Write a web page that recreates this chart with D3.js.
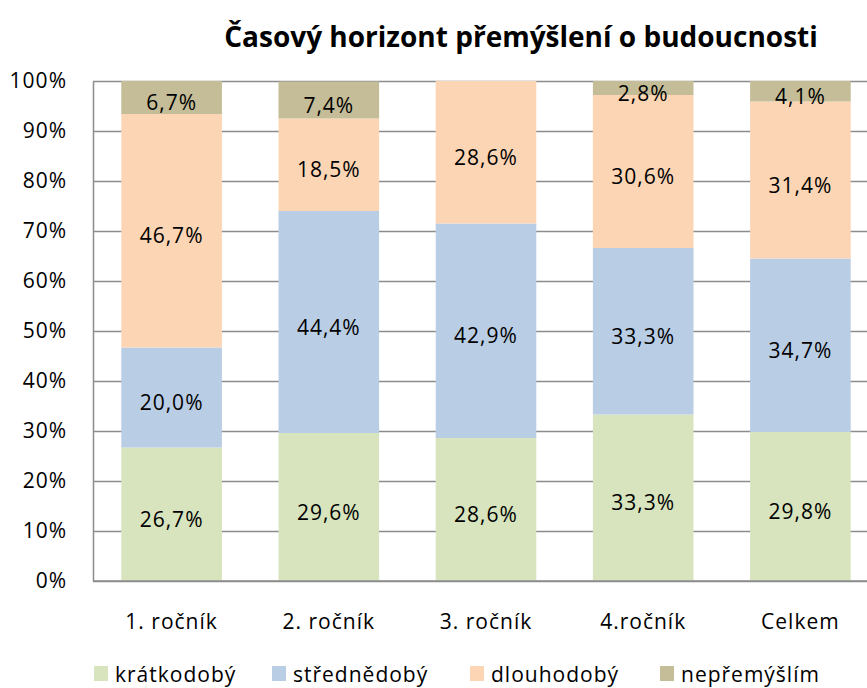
<!DOCTYPE html>
<html>
<head>
<meta charset="utf-8">
<script src="https://cdn.jsdelivr.net/npm/d3@7"></script>
<style>
  body { margin: 0; background: #fff; }
  svg { display: block; font-family: "Open Sans", sans-serif; }
</style>
</head>
<body>
<div id="chart"></div>
<script>
var svgWidth = 867;
var svgHeight = 688;

// data
var categories = ["1. ročník", "2. ročník", "3. ročník", "4.ročník", "Celkem"];
var seriesNames = ["krátkodobý", "střednědobý", "dlouhodobý", "nepřemýšlím"];
var kratkodoby = [26.7, 29.6, 28.6, 33.3, 29.8];
var strednedoby = [20.0, 44.4, 42.9, 33.3, 34.7];
var dlouhodoby = [46.7, 18.5, 28.6, 30.6, 31.4];
var nepremyslim = [6.7, 7.4, 0, 2.8, 4.1];
var yTicks = [0, 10, 20, 30, 40, 50, 60, 70, 80, 90, 100];

var colors = ["#d7e4bd", "#b9cde5", "#fcd5b5", "#c4bd97"];

var rows = categories.map(function (c, i) {
  return {
    cat: c,
    "krátkodobý": kratkodoby[i],
    "střednědobý": strednedoby[i],
    "dlouhodobý": dlouhodoby[i],
    "nepřemýšlím": nepremyslim[i]
  };
});

var margin = { top: 81, left: 93, bottom: 107 };
var plotRight = 879; // plot area runs past the window edge
var fontSize = 21;
var spacing = "1px";

var svg = d3.select("#chart")
  .append("svg")
  .attr("width", svgWidth)
  .attr("height", svgHeight);

var x = d3.scaleBand()
  .domain(categories)
  .range([margin.left, plotRight])
  .paddingInner(0.36)
  .paddingOuter(0.18);

var y = d3.scaleLinear()
  .domain([0, 100])
  .range([svgHeight - margin.bottom, margin.top])
  .clamp(true);

// gridlines
svg.append("g")
  .selectAll("line")
  .data(yTicks)
  .enter()
  .append("line")
    .attr("x1", margin.left)
    .attr("x2", plotRight)
    .attr("y1", function (d) { return Math.round(y(d)) + 0.5; })
    .attr("y2", function (d) { return Math.round(y(d)) + 0.5; })
    .attr("stroke", "#8c8c8c")
    .attr("stroke-width", 1.5);

// y axis
var leftAxis = d3.axisLeft(y)
  .tickValues(yTicks)
  .tickSize(0)
  .tickPadding(26)
  .tickFormat(function (d) { return d + "%"; });

var yAxis = svg.append("g")
  .attr("transform", "translate(" + margin.left + ",0)")
  .call(leftAxis);
yAxis.select(".domain").attr("stroke", "#8c8c8c").attr("stroke-width", 1.5);
yAxis.selectAll("text")
  .attr("font-size", fontSize)
  .attr("letter-spacing", spacing)
  .attr("fill", "#000")
  .attr("font-family", "Open Sans");

// stacked bars
var stack = d3.stack().keys(seriesNames);
var stacked = stack(rows);

var layers = svg.append("g")
  .selectAll("g")
  .data(stacked)
  .enter()
  .append("g")
    .attr("fill", function (d, i) { return colors[i]; });

layers.selectAll("rect")
  .data(function (d) { return d; })
  .enter()
  .append("rect")
    .attr("x", function (d) { return x(d.data.cat); })
    .attr("y", function (d) { return y(d[1]); })
    .attr("height", function (d) { return y(d[0]) - y(d[1]); })
    .attr("width", x.bandwidth());

// data labels (sit a little below the segment centre, like the original)
layers.selectAll("text")
  .data(function (d) { return d.filter(function (p) { return p[1] - p[0] > 0; }); })
  .enter()
  .append("text")
    .attr("x", function (d) { return x(d.data.cat) + x.bandwidth() / 2; })
    .attr("y", function (d) { return (y(d[0]) + y(d[1])) / 2; })
    .attr("dy", "0.6em")
    .attr("text-anchor", "middle")
    .attr("font-size", fontSize)
    .attr("letter-spacing", spacing)
    .attr("fill", "#000")
    .text(function (d) { return (d[1] - d[0]).toFixed(1).replace(".", ",") + "%"; });

// bottom axis line
svg.append("line")
  .attr("x1", margin.left)
  .attr("x2", plotRight)
  .attr("y1", y(0))
  .attr("y2", y(0))
  .attr("stroke", "#8c8c8c")
  .attr("stroke-width", 1.5);

// category labels
svg.append("g")
  .selectAll("text")
  .data(categories)
  .enter()
  .append("text")
    .attr("x", function (d) { return x(d) + x.bandwidth() / 2; })
    .attr("y", 629)
    .attr("text-anchor", "middle")
    .attr("font-size", fontSize)
    .attr("letter-spacing", spacing)
    .attr("fill", "#000")
    .text(function (d) { return d; });

// title
svg.append("text")
  .attr("x", 521)
  .attr("y", 47)
  .attr("text-anchor", "middle")
  .attr("font-size", 28)
  .attr("font-weight", "bold")
  .attr("fill", "#000")
  .text("Časový horizont přemýšlení o budoucnosti");

// legend
var legendX = [94, 272, 470, 660];
var legend = svg.append("g")
  .selectAll("g")
  .data(seriesNames)
  .enter()
  .append("g")
    .attr("transform", function (d, i) { return "translate(" + legendX[i] + ",666)"; });

legend.append("rect")
  .attr("width", 14)
  .attr("height", 15)
  .attr("fill", function (d, i) { return colors[i]; });

legend.append("text")
  .attr("x", 21)
  .attr("y", 16)
  .attr("font-size", fontSize)
  .attr("letter-spacing", spacing)
  .attr("fill", "#000")
  .text(function (d) { return d; });
</script>
</body>
</html>
